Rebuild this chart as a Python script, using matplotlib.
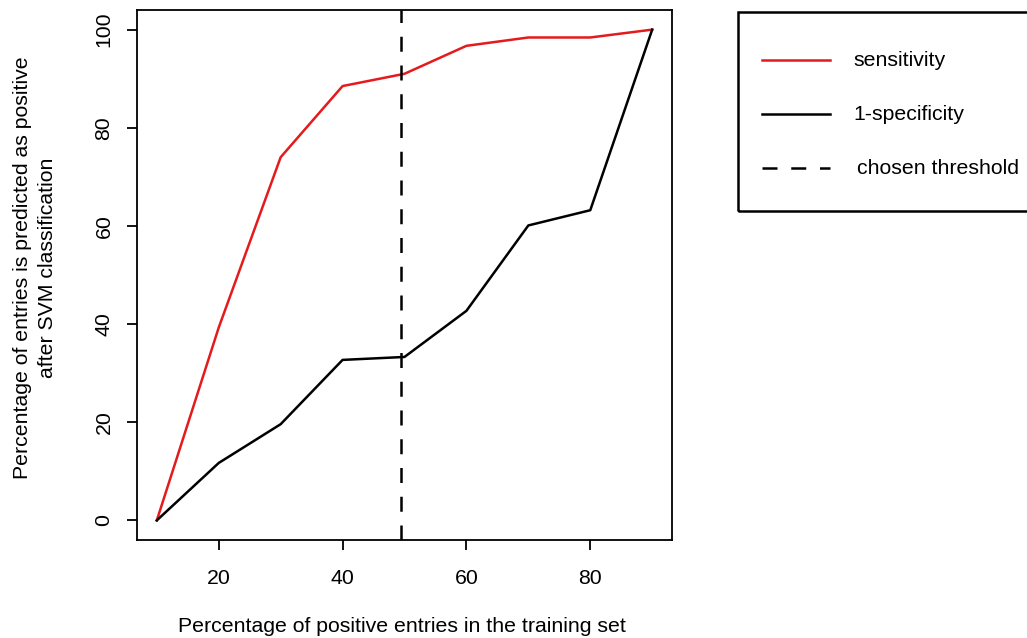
import matplotlib
matplotlib.use("Agg")
import matplotlib.pyplot as plt
from matplotlib.lines import Line2D
from matplotlib.patches import Rectangle

plt.rcParams['font.family'] = ['Liberation Sans', 'DejaVu Sans']

pct_positive = [10, 20, 30, 40, 50, 60, 70, 80, 90]
sensitivity = [0, 39.3, 74.0, 88.5, 91.0, 96.7, 98.4, 98.4, 100]
one_minus_specificity = [0, 11.7, 19.6, 32.7, 33.3, 42.7, 60.1, 63.2, 100]
threshold = 49.5
x_ticks = [20, 40, 60, 80]
y_ticks = [0, 20, 40, 60, 80, 100]
legend_labels = ["sensitivity", "1-specificity", "chosen threshold"]

FS = 15.3
LW = 1.8
DASH = (0, (6, 5.5))
W, H = 1027, 638
fig = plt.figure(figsize=(W / 100, H / 100), dpi=100)
ax = fig.add_axes([137 / W, 1 - 540 / H, (672 - 137) / W, (540 - 10) / H])

red = '#e41a1c'
ax.plot(pct_positive, sensitivity, color=red, lw=LW)
ax.plot(pct_positive, one_minus_specificity, color='black', lw=LW)
ax.axvline(threshold, color='black', lw=LW, ls=DASH)

ax.set_xlim(6.8, 93.2)
ax.set_ylim(-4, 104)
ax.set_xticks(x_ticks)
ax.set_yticks(y_ticks)
ax.tick_params(axis='x', direction='out', length=7, width=1.3, labelsize=FS, pad=14)
ax.tick_params(axis='y', direction='out', length=7, width=1.3, labelsize=FS, pad=10)
for lab in ax.get_yticklabels():
    lab.set_rotation(90)
    lab.set_va('center')
for s in ax.spines.values():
    s.set_linewidth(1.3)

fig.text(402 / W, 1 - 627 / H, "Percentage of positive entries in the training set",
         ha='center', va='center', fontsize=FS)
fig.text(23 / W, 1 - 268 / H, "Percentage of entries is predicted as positive",
         ha='center', va='center', rotation=90, fontsize=FS)
fig.text(48 / W, 1 - 268 / H, "after SVM classification",
         ha='center', va='center', rotation=90, fontsize=FS)

# legend drawn in figure pixel coordinates (box extends past right edge)
fig.patches.append(Rectangle((738 / W, 1 - 211 / H), (1040 - 738) / W, (211 - 12) / H,
                             transform=fig.transFigure, fill=False, lw=1.8,
                             edgecolor='black', clip_on=False))
rows = [(60, red, '-'), (114, 'black', '-'), (168, 'black', DASH)]
for (y, c, ls), lab in zip(rows, legend_labels):
    fig.lines.append(Line2D([762 / W, 830 / W], [1 - y / H, 1 - y / H],
                            transform=fig.transFigure, color=c, lw=LW, ls=ls))
    fig.text((853 if lab != "chosen threshold" else 857) / W, 1 - y / H, lab,
             ha='left', va='center', fontsize=FS)

fig.savefig("out.png", dpi=100)
